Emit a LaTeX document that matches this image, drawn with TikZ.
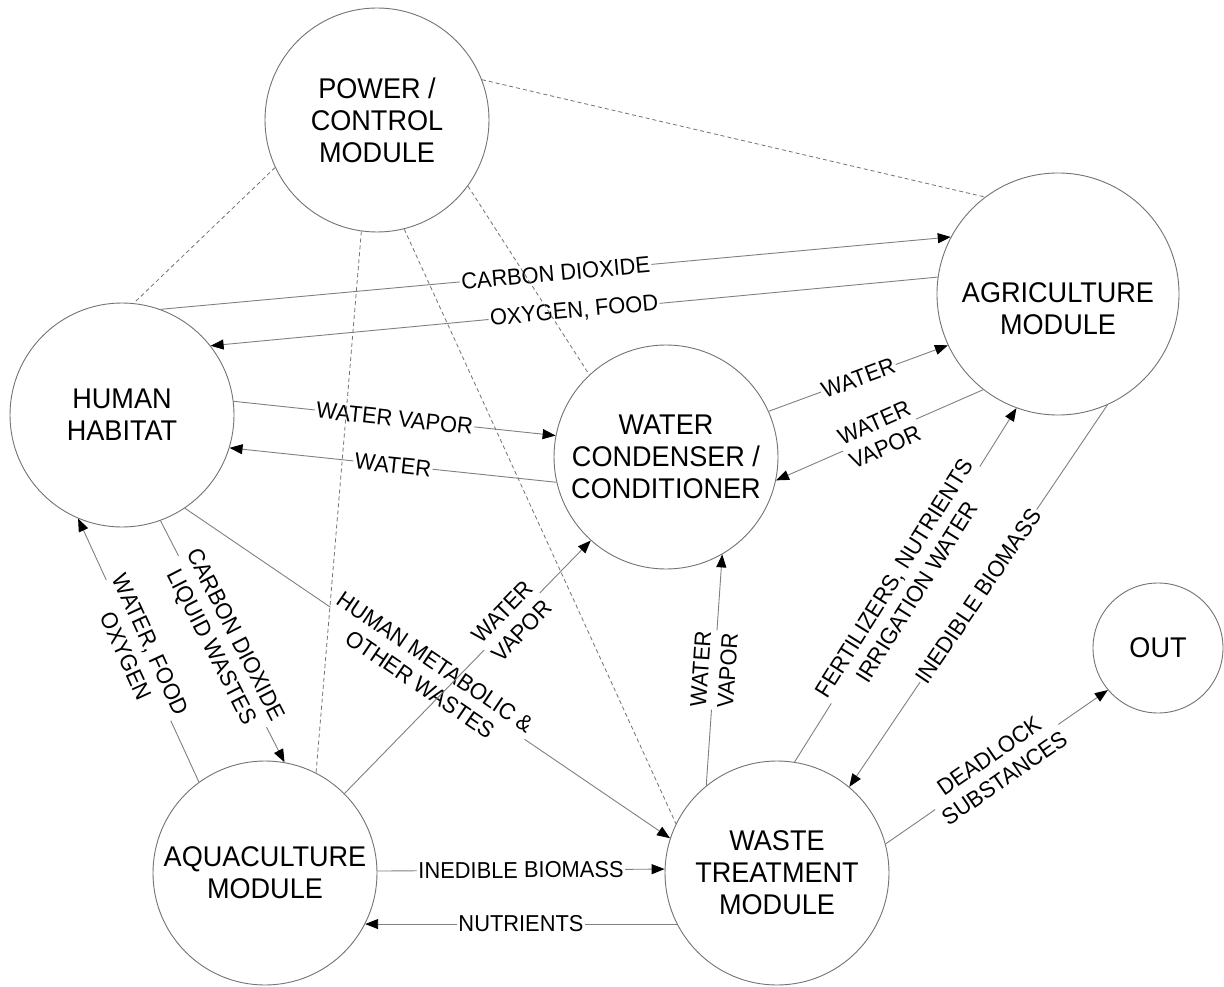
\documentclass[tikz,border=0pt]{standalone}
\usepackage{fontspec}
\setmainfont{Liberation Sans}[FakeStretch=0.95]
\usetikzlibrary{arrows.meta}
\begin{document}
\begin{tikzpicture}[x=1pt,y=-1pt,
  mod/.style={circle, draw=black!55, line width=0.9pt, minimum size=#1, inner sep=0pt, align=center, font=\fontsize{28.5}{32}\selectfont},
  modtxt/.style={inner sep=0pt, align=center, font=\fontsize{28.5}{32}\selectfont},
  flow/.style={draw=black!50, line width=0.9pt, -{Triangle[length=13pt,width=10pt,color=black]}},
  link/.style={draw=black!55, line width=0.8pt, dash pattern=on 4pt off 3pt},
  lbl/.style={fill=white, inner sep=1.5pt, align=center, font=\fontsize{23}{27}\selectfont, sloped}
]
\useasboundingbox[fill=white] (0,0) rectangle (1224,987);

\node[mod=224pt] (power) at (377,120) {POWER /\\CONTROL\\MODULE};
\node[mod=242pt] (agri) at (1058,294) {};
\node[modtxt] (agritext) at (1058,309) {AGRICULTURE\\MODULE};
\node[mod=224pt] (human) at (122,415) {HUMAN\\HABITAT};
\node[mod=224pt] (wc) at (666,457) {WATER\\CONDENSER /\\CONDITIONER};
\node[mod=130pt] (out) at (1158,648) {OUT};
\node[mod=224pt] (aqua) at (265,873) {AQUACULTURE\\MODULE};
\node[mod=224pt] (waste) at (777,873) {WASTE\\TREATMENT\\MODULE};

\draw[flow] (human.70) -- node[lbl]{CARBON DIOXIDE} (agri.152);
\draw[flow] (agri.172) -- node[lbl]{OXYGEN, FOOD} (human.38.5);
\draw[flow] (human.7.6) -- node[lbl]{WATER VAPOR} (wc.169);
\draw[flow] (wc.193) -- node[lbl]{WATER} (human.-17);
\draw[flow] (wc.24) -- node[lbl]{WATER} (agri.205);
\draw[flow] (agri.232) -- node[lbl]{WATER\\VAPOR} (wc.-12);
\draw[flow] (aqua.126) -- node[lbl]{WATER, FOOD\\OXYGEN} (human.247);
\draw[flow] (human.-70) -- node[lbl]{CARBON DIOXIDE\\LIQUID WASTES} (aqua.80);
\draw[flow] (human.-56) -- node[lbl]{HUMAN METABOLIC \&\\OTHER WASTES} (waste.162);
\draw[flow] (aqua.45) -- node[lbl,pos=0.68]{WATER\\VAPOR} (wc.228);
\draw[flow] (aqua.1.5) -- node[lbl]{INEDIBLE BIOMASS} (waste.178.5);
\draw[flow] (waste.207.7) -- node[lbl]{NUTRIENTS} (aqua.-27.7);
\draw[flow] (waste.129) -- node[lbl]{WATER\\VAPOR} (wc.-60);
\draw[flow] (waste.81) -- node[lbl]{FERTILIZERS, NUTRIENTS\\IRRIGATION WATER} (agri.250);
\draw[flow] (agri.-66) -- node[lbl]{INEDIBLE BIOMASS} (waste.50);
\draw[flow] (waste.15) -- node[lbl]{DEADLOCK\\SUBSTANCES} (out.220);

\draw[link] (power.205) -- (human.84);
\draw[link] (power.21) -- (agri.127);
\draw[link] (power.-36) -- (wc.133);
\draw[link] (power.262) -- (aqua.63);
\draw[link] (power.-76) -- (waste.154);
\end{tikzpicture}
\end{document}
